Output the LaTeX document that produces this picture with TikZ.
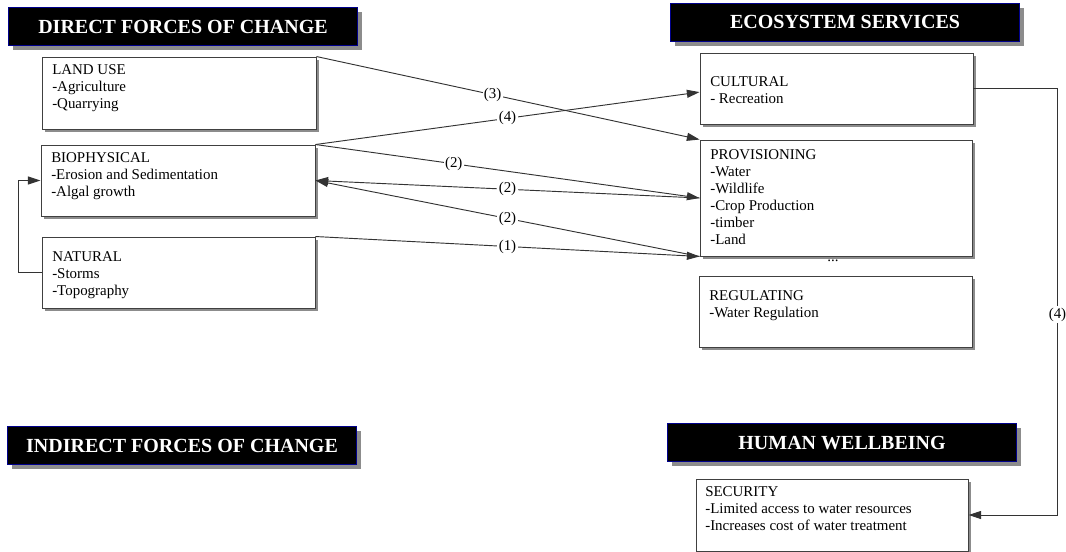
\documentclass[tikz,border=0pt]{standalone}
\usepackage{fontspec}
\setmainfont{Liberation Serif}
\usetikzlibrary{arrows.meta,shadows,fit,calc}

\begin{document}
\begin{tikzpicture}[x=0.75pt,y=-0.75pt,
  panel/.style={draw=black!75, line width=0.7pt, fill=white, inner sep=0pt,
    drop shadow={shadow xshift=2.25pt, shadow yshift=-2.25pt, fill=black!45, opacity=1}},
  banner/.style={draw=blue!55!black, line width=0.8pt, fill=black, inner sep=0pt,
    anchor=north west, minimum width=261.75pt, minimum height=28.5pt,
    text=white, font=\fontsize{15}{18}\selectfont\bfseries,
    drop shadow={shadow xshift=3pt, shadow yshift=-3pt, fill=black!45, opacity=1}},
  body/.style={anchor=north west, inner sep=0pt, align=left,
    font=\fontsize{11.2}{12.75}\selectfont},
  link/.style={draw=black!80, line width=0.7pt,
    -{Triangle[length=9.5pt,width=6pt]}},
  tag/.style={fill=white, inner sep=1pt, font=\fontsize{11.2}{12.75}\selectfont}
]
\useasboundingbox (0,0) rectangle (1066,552);

% section banners
\node[banner] (direct) at (8,7) {DIRECT FORCES OF CHANGE};
\node[banner] (indirect) at (7,426) {INDIRECT FORCES OF CHANGE};
\node[banner] (eco) at (670,3) {ECOSYSTEM SERVICES};
\node[banner] (human) at (667,423) {HUMAN WELLBEING};

% drivers of change
\node[panel, fit={(42,57) (316,129)}] (land) {};
\node[body] (landtxt) at (52,64) {LAND USE\\-Agriculture\\-Quarrying};
\node[panel, fit={(41,145) (315,216)}] (bio) {};
\node[body] (biotxt) at (51,152) {BIOPHYSICAL\\-Erosion and Sedimentation\\-Algal growth};
\node[panel, fit={(42,237) (315,308)}] (nat) {};
\node[body] (nattxt) at (52,251) {NATURAL\\-Storms\\-Topography};

% ecosystem services
\node[panel, fit={(700,53) (973,124)}] (cult) {};
\node[body] (culttxt) at (710,76) {CULTURAL\\- Recreation};
\node[panel, fit={(700,140) (972,256)}] (prov) {};
\node[body] (provtxt) at (710,149) {PROVISIONING\\-Water\\-Wildlife\\-Crop Production\\-timber\\-Land};
\node[anchor=base, inner sep=0pt, font=\fontsize{11.2}{12.75}\selectfont] (more) at (833,262) {...};
\node[panel, fit={(699,276) (972,347)}] (reg) {};
\node[body] (regtxt) at (709,290) {REGULATING\\-Water Regulation};

% human wellbeing
\node[panel, fit={(696,479) (968,551)}] (sec) {};
\node[body] (sectxt) at (705,486) {SECURITY\\-Limited access to water resources\\-Increases cost of water treatment};

% links between drivers and services
\draw[link] (land.north east) -- node[tag, pos=0.46] {(3)} (prov.north west);
\draw[link] (bio.north east) -- node[tag, pos=0.5] {(4)} ($(cult.north west)!0.55!(cult.south west)$);
\draw[link] (bio.north east) -- node[tag, pos=0.36] {(2)} (prov.west);
\draw[link] (prov.west) -- node[tag, pos=0.5] {(2)} (bio.east);
\draw[link] (prov.south west) -- node[tag, pos=0.5] {(2)} (bio.east);
\draw[link] (nat.north east) -- node[tag, pos=0.5] {(1)} (prov.south west);

% natural drivers feed biophysical ones
\draw[link] (nat.west) -- ++(-23,0) |- (bio.west);

% cultural services to human security
\coordinate (rt) at ($(cult.east)+(84,0)$);
\draw[link] (cult.east) -- (rt) -- node[tag, pos=0.53] {(4)} (rt |- sec.east) -- (sec.east);
\end{tikzpicture}
\end{document}
